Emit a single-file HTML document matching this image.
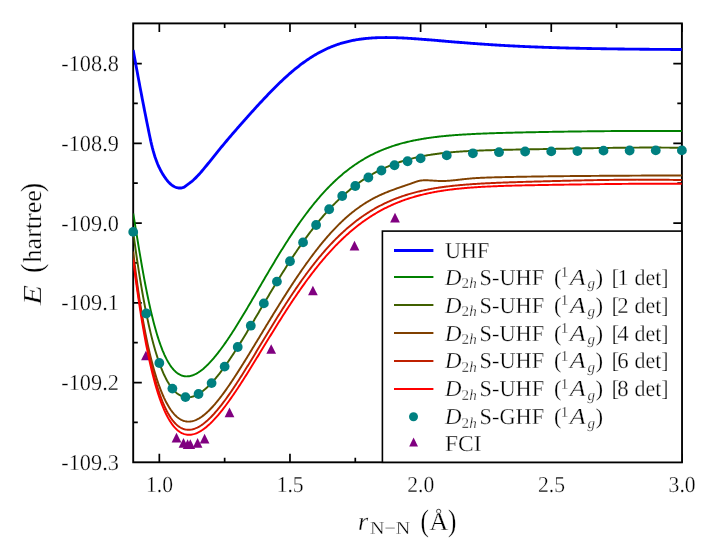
<!DOCTYPE html>
<html><head><meta charset="utf-8"><title>N2 dissociation</title>
<style>html,body{margin:0;padding:0;background:#fff}svg{display:block;will-change:transform}text{font-family:"Liberation Serif",serif;fill:#000;text-rendering:geometricPrecision;stroke:#fff;stroke-width:0.3px}</style></head><body>
<svg width="705" height="552" viewBox="0 0 705 552">
<rect width="705" height="552" fill="#fff"/>
<defs><clipPath id="c"><rect x="133.2" y="23.4" width="548.7" height="438.90000000000003"/></clipPath></defs>
<rect x="133.2" y="23.4" width="548.7" height="438.90000000000003" fill="none" stroke="#000" stroke-width="1.9"/>
<g stroke="#000" stroke-width="1.7">
<path d="M159.33,462.3 v-8.6 M159.33,23.4 v8.6"/>
<path d="M224.65,462.3 v-4.6 M224.65,23.4 v4.6"/>
<path d="M289.97,462.3 v-8.6 M289.97,23.4 v8.6"/>
<path d="M355.29,462.3 v-4.6 M355.29,23.4 v4.6"/>
<path d="M420.61,462.3 v-8.6 M420.61,23.4 v8.6"/>
<path d="M485.94,462.3 v-4.6 M485.94,23.4 v4.6"/>
<path d="M551.26,462.3 v-8.6 M551.26,23.4 v8.6"/>
<path d="M616.58,462.3 v-4.6 M616.58,23.4 v4.6"/>
<path d="M681.90,462.3 v-8.6 M681.90,23.4 v8.6"/>
<path d="M133.2,422.43 h4.6 M681.9,422.43 h-4.6"/>
<path d="M133.2,382.55 h8.6 M681.9,382.55 h-8.6"/>
<path d="M133.2,342.67 h4.6 M681.9,342.67 h-4.6"/>
<path d="M133.2,302.80 h8.6 M681.9,302.80 h-8.6"/>
<path d="M133.2,262.93 h4.6 M681.9,262.93 h-4.6"/>
<path d="M133.2,223.05 h8.6 M681.9,223.05 h-8.6"/>
<path d="M133.2,183.18 h4.6 M681.9,183.18 h-4.6"/>
<path d="M133.2,143.30 h8.6 M681.9,143.30 h-8.6"/>
<path d="M133.2,103.42 h4.6 M681.9,103.42 h-4.6"/>
<path d="M133.2,63.55 h8.6 M681.9,63.55 h-8.6"/>
</g>
<g fill="#800080">
<path d="M145.90,350.65 L150.75,360.35 L141.05,360.35 Z"/>
<path d="M176.50,432.85 L181.35,442.55 L171.65,442.55 Z"/>
<path d="M183.50,437.95 L188.35,447.65 L178.65,447.65 Z"/>
<path d="M187.60,439.20 L192.45,448.90 L182.75,448.90 Z"/>
<path d="M190.30,439.20 L195.15,448.90 L185.45,448.90 Z"/>
<path d="M197.60,437.95 L202.45,447.65 L192.75,447.65 Z"/>
<path d="M204.60,433.85 L209.45,443.55 L199.75,443.55 Z"/>
<path d="M229.50,407.45 L234.35,417.15 L224.65,417.15 Z"/>
<path d="M271.20,344.15 L276.05,353.85 L266.35,353.85 Z"/>
<path d="M312.90,285.65 L317.75,295.35 L308.05,295.35 Z"/>
<path d="M354.50,240.80 L359.35,250.50 L349.65,250.50 Z"/>
<path d="M395.00,212.80 L399.85,222.50 L390.15,222.50 Z"/>
</g>
<g clip-path="url(#c)" fill="none" stroke-linejoin="round">
<path d="M133.20,50.03 L133.34,50.80 L133.48,51.57 L133.62,52.34 L133.76,53.11 L133.90,53.88 L134.04,54.65 L134.18,55.42 L134.32,56.19 L134.46,56.96 L134.60,57.73 L134.74,58.50 L134.88,59.27 L135.02,60.03 L135.16,60.80 L135.30,61.57 L135.44,62.34 L135.58,63.11 L135.72,63.88 L135.86,64.65 L136.00,65.42 L136.15,66.18 L136.29,66.95 L136.43,67.72 L136.57,68.49 L136.71,69.26 L136.85,70.03 L137.00,70.79 L137.14,71.56 L137.28,72.33 L137.42,73.10 L137.57,73.87 L137.71,74.63 L137.85,75.40 L137.99,76.17 L138.14,76.94 L138.28,77.71 L138.42,78.47 L138.57,79.24 L138.71,80.01 L138.85,80.78 L139.00,81.54 L139.14,82.31 L139.29,83.08 L139.43,83.85 L139.58,84.61 L139.72,85.38 L139.86,86.15 L140.01,86.92 L140.16,87.68 L140.30,88.45 L140.45,89.22 L140.59,89.99 L140.74,90.75 L140.88,91.52 L141.03,92.29 L141.18,93.05 L141.32,93.82 L141.47,94.59 L141.62,95.36 L141.76,96.12 L141.91,96.89 L142.06,97.66 L142.20,98.42 L142.35,99.19 L142.50,99.96 L142.65,100.72 L142.80,101.49 L142.95,102.26 L143.09,103.03 L143.24,103.79 L143.39,104.56 L143.54,105.33 L143.69,106.09 L143.84,106.86 L143.99,107.63 L144.14,108.39 L144.29,109.16 L144.44,109.93 L144.59,110.69 L144.74,111.46 L144.89,112.23 L145.04,113.00 L145.20,113.76 L145.35,114.53 L145.50,115.30 L145.65,116.06 L145.80,116.83 L145.96,117.60 L146.11,118.36 L146.26,119.13 L146.42,119.90 L146.57,120.66 L146.72,121.43 L146.88,122.20 L147.03,122.96 L147.19,123.73 L147.34,124.50 L147.50,125.27 L147.65,126.03 L147.81,126.80 L147.96,127.57 L148.12,128.33 L148.27,129.10 L148.43,129.87 L148.59,130.64 L148.74,131.40 L148.90,132.17 L149.06,132.94 L149.22,133.70 L149.37,134.47 L149.53,135.24 L149.69,136.00 L149.85,136.77 L150.01,137.54 L150.18,138.30 L150.34,139.07 L150.51,139.83 L150.68,140.60 L150.84,141.36 L151.02,142.13 L151.19,142.89 L151.37,143.65 L151.54,144.41 L151.73,145.17 L151.91,145.93 L152.10,146.69 L152.28,147.45 L152.48,148.20 L152.67,148.96 L152.87,149.71 L153.08,150.46 L153.28,151.21 L153.50,151.96 L153.71,152.71 L153.93,153.46 L154.15,154.20 L154.38,154.95 L154.62,155.69 L154.85,156.43 L155.10,157.17 L155.34,157.90 L155.60,158.64 L155.86,159.37 L156.12,160.10 L156.39,160.83 L156.67,161.56 L156.95,162.28 L157.24,163.00 L157.53,163.72 L157.84,164.44 L158.14,165.16 L158.46,165.87 L158.78,166.58 L159.11,167.29 L159.45,167.99 L159.79,168.69 L160.14,169.39 L160.50,170.09 L160.87,170.78 L161.24,171.47 L161.62,172.16 L162.01,172.85 L162.41,173.53 L162.82,174.21 L163.24,174.88 L163.67,175.55 L164.10,176.22 L164.55,176.89 L165.00,177.55 L165.46,178.21 L165.94,178.86 L166.42,179.50 L166.91,180.14 L167.42,180.76 L167.93,181.37 L168.46,181.97 L169.00,182.54 L169.55,183.10 L170.12,183.64 L170.69,184.16 L171.28,184.65 L171.89,185.12 L172.51,185.56 L173.14,185.97 L173.79,186.35 L174.45,186.69 L175.12,187.01 L175.82,187.28 L176.52,187.52 L177.25,187.71 L177.99,187.87 L178.74,187.97 L179.51,188.03 L180.29,188.04 L181.07,187.99 L181.85,187.88 L182.64,187.71 L183.42,187.46 L184.20,187.15 L185.20,186.34 L186.19,185.59 L187.19,184.87 L188.19,184.15 L189.19,183.43 L190.18,182.68 L191.18,181.90 L192.18,181.08 L193.18,180.22 L194.17,179.32 L195.17,178.37 L196.17,177.39 L197.17,176.37 L198.16,175.31 L199.16,174.22 L200.16,173.11 L201.16,171.96 L202.15,170.80 L203.15,169.62 L204.15,168.42 L205.15,167.20 L206.14,165.98 L207.14,164.75 L208.14,163.51 L209.13,162.27 L210.13,161.02 L211.13,159.78 L212.13,158.53 L213.12,157.29 L214.12,156.05 L215.12,154.81 L216.12,153.57 L217.11,152.34 L218.11,151.11 L219.11,149.89 L220.11,148.67 L221.10,147.46 L222.10,146.25 L223.10,145.05 L224.10,143.85 L225.09,142.66 L226.09,141.47 L227.09,140.29 L228.09,139.11 L229.08,137.93 L230.08,136.76 L231.08,135.60 L232.07,134.43 L233.07,133.27 L234.07,132.12 L235.07,130.97 L236.06,129.82 L237.06,128.67 L238.06,127.53 L239.06,126.39 L240.05,125.25 L241.05,124.12 L242.05,122.99 L243.05,121.86 L244.04,120.73 L245.04,119.61 L246.04,118.49 L247.04,117.37 L248.03,116.25 L249.03,115.14 L250.03,114.03 L251.03,112.92 L252.02,111.81 L253.02,110.71 L254.02,109.61 L255.02,108.52 L256.01,107.42 L257.01,106.33 L258.01,105.25 L259.00,104.16 L260.00,103.08 L261.00,102.01 L262.00,100.94 L262.99,99.87 L263.99,98.81 L264.99,97.75 L265.99,96.70 L266.98,95.65 L267.98,94.61 L268.98,93.57 L269.98,92.54 L270.97,91.52 L271.97,90.50 L272.97,89.48 L273.97,88.48 L274.96,87.48 L275.96,86.49 L276.96,85.50 L277.96,84.52 L278.95,83.55 L279.95,82.59 L280.95,81.63 L281.94,80.69 L282.94,79.75 L283.94,78.82 L284.94,77.90 L285.93,76.98 L286.93,76.08 L287.93,75.19 L288.93,74.30 L289.92,73.43 L290.92,72.56 L291.92,71.71 L292.92,70.86 L293.91,70.03 L294.91,69.20 L295.91,68.39 L296.91,67.58 L297.90,66.79 L298.90,66.01 L299.90,65.24 L300.90,64.48 L301.89,63.73 L302.89,62.99 L303.89,62.27 L304.88,61.55 L305.88,60.85 L306.88,60.16 L307.88,59.48 L308.87,58.81 L309.87,58.15 L310.87,57.50 L311.87,56.87 L312.86,56.25 L313.86,55.64 L314.86,55.04 L315.86,54.45 L316.85,53.87 L317.85,53.31 L318.85,52.76 L319.85,52.22 L320.84,51.69 L321.84,51.17 L322.84,50.67 L323.84,50.17 L324.83,49.69 L325.83,49.22 L326.83,48.76 L327.82,48.31 L328.82,47.87 L329.82,47.44 L330.82,47.03 L331.81,46.62 L332.81,46.23 L333.81,45.84 L334.81,45.47 L335.80,45.11 L336.80,44.75 L337.80,44.41 L338.80,44.08 L339.79,43.76 L340.79,43.45 L341.79,43.14 L342.79,42.85 L343.78,42.57 L344.78,42.30 L345.78,42.03 L346.78,41.78 L347.77,41.53 L348.77,41.30 L349.77,41.07 L350.76,40.85 L351.76,40.64 L352.76,40.43 L353.76,40.24 L354.75,40.05 L355.75,39.88 L356.75,39.71 L357.75,39.54 L358.74,39.39 L359.74,39.24 L360.74,39.10 L361.74,38.97 L362.73,38.84 L363.73,38.72 L364.73,38.61 L365.73,38.50 L366.72,38.40 L367.72,38.31 L368.72,38.22 L369.72,38.14 L370.71,38.06 L371.71,37.99 L372.71,37.93 L373.71,37.87 L374.70,37.82 L375.70,37.77 L376.70,37.72 L377.69,37.69 L378.69,37.65 L379.69,37.62 L380.69,37.60 L381.68,37.58 L382.68,37.56 L383.68,37.55 L384.68,37.55 L385.67,37.54 L386.67,37.54 L387.67,37.55 L388.67,37.56 L389.66,37.57 L390.66,37.58 L391.66,37.60 L392.66,37.62 L393.65,37.65 L394.65,37.67 L395.65,37.70 L396.65,37.74 L397.64,37.77 L398.64,37.81 L399.64,37.85 L400.63,37.90 L401.63,37.94 L402.63,37.99 L403.63,38.04 L404.62,38.09 L405.62,38.15 L406.62,38.20 L407.62,38.26 L408.61,38.32 L409.61,38.38 L410.61,38.45 L411.61,38.51 L412.60,38.58 L413.60,38.65 L414.60,38.72 L415.60,38.79 L416.59,38.86 L417.59,38.93 L418.59,39.00 L419.59,39.08 L420.58,39.15 L421.58,39.23 L422.58,39.31 L423.57,39.39 L424.57,39.46 L425.57,39.54 L426.57,39.62 L427.56,39.71 L428.56,39.79 L429.56,39.87 L430.56,39.95 L431.55,40.03 L432.55,40.12 L433.55,40.20 L434.55,40.28 L435.54,40.37 L436.54,40.45 L437.54,40.54 L438.54,40.62 L439.53,40.71 L440.53,40.79 L441.53,40.87 L442.53,40.96 L443.52,41.04 L444.52,41.13 L445.52,41.21 L446.51,41.30 L447.51,41.38 L448.51,41.47 L449.51,41.55 L450.50,41.63 L451.50,41.72 L452.50,41.80 L453.50,41.88 L454.49,41.97 L455.49,42.05 L456.49,42.13 L457.49,42.21 L458.48,42.29 L459.48,42.38 L460.48,42.46 L461.48,42.54 L462.47,42.62 L463.47,42.70 L464.47,42.78 L465.47,42.85 L466.46,42.93 L467.46,43.01 L468.46,43.09 L469.45,43.16 L470.45,43.24 L471.45,43.32 L472.45,43.39 L473.44,43.47 L474.44,43.54 L475.44,43.61 L476.44,43.69 L477.43,43.76 L478.43,43.83 L479.43,43.90 L480.43,43.97 L481.42,44.04 L482.42,44.11 L483.42,44.18 L484.42,44.25 L485.41,44.32 L486.41,44.38 L487.41,44.45 L488.41,44.52 L489.40,44.58 L490.40,44.65 L491.40,44.71 L492.39,44.78 L493.39,44.84 L494.39,44.90 L495.39,44.96 L496.38,45.02 L497.38,45.09 L498.38,45.15 L499.38,45.21 L500.37,45.26 L501.37,45.32 L502.37,45.38 L503.37,45.44 L504.36,45.49 L505.36,45.55 L506.36,45.60 L507.36,45.66 L508.35,45.71 L509.35,45.77 L510.35,45.82 L511.35,45.87 L512.34,45.92 L513.34,45.98 L514.34,46.03 L515.34,46.08 L516.33,46.13 L517.33,46.18 L518.33,46.22 L519.32,46.27 L520.32,46.32 L521.32,46.37 L522.32,46.41 L523.31,46.46 L524.31,46.50 L525.31,46.55 L526.31,46.59 L527.30,46.64 L528.30,46.68 L529.30,46.72 L530.30,46.76 L531.29,46.81 L532.29,46.85 L533.29,46.89 L534.29,46.93 L535.28,46.97 L536.28,47.01 L537.28,47.04 L538.28,47.08 L539.27,47.12 L540.27,47.16 L541.27,47.19 L542.26,47.23 L543.26,47.27 L544.26,47.30 L545.26,47.34 L546.25,47.37 L547.25,47.41 L548.25,47.44 L549.25,47.47 L550.24,47.51 L551.24,47.54 L552.24,47.57 L553.24,47.60 L554.23,47.63 L555.23,47.66 L556.23,47.69 L557.23,47.72 L558.22,47.75 L559.22,47.78 L560.22,47.81 L561.22,47.84 L562.21,47.87 L563.21,47.90 L564.21,47.92 L565.20,47.95 L566.20,47.98 L567.20,48.00 L568.20,48.03 L569.19,48.05 L570.19,48.08 L571.19,48.10 L572.19,48.13 L573.18,48.15 L574.18,48.18 L575.18,48.20 L576.18,48.22 L577.17,48.25 L578.17,48.27 L579.17,48.29 L580.17,48.31 L581.16,48.34 L582.16,48.36 L583.16,48.38 L584.16,48.40 L585.15,48.42 L586.15,48.44 L587.15,48.46 L588.14,48.48 L589.14,48.50 L590.14,48.52 L591.14,48.54 L592.13,48.56 L593.13,48.58 L594.13,48.59 L595.13,48.61 L596.12,48.63 L597.12,48.65 L598.12,48.66 L599.12,48.68 L600.11,48.70 L601.11,48.71 L602.11,48.73 L603.11,48.75 L604.10,48.76 L605.10,48.78 L606.10,48.79 L607.10,48.81 L608.09,48.82 L609.09,48.84 L610.09,48.85 L611.08,48.87 L612.08,48.88 L613.08,48.90 L614.08,48.91 L615.07,48.92 L616.07,48.94 L617.07,48.95 L618.07,48.96 L619.06,48.98 L620.06,48.99 L621.06,49.00 L622.06,49.01 L623.05,49.03 L624.05,49.04 L625.05,49.05 L626.05,49.06 L627.04,49.07 L628.04,49.09 L629.04,49.10 L630.04,49.11 L631.03,49.12 L632.03,49.13 L633.03,49.14 L634.03,49.15 L635.02,49.16 L636.02,49.17 L637.02,49.18 L638.01,49.19 L639.01,49.20 L640.01,49.21 L641.01,49.22 L642.00,49.23 L643.00,49.24 L644.00,49.25 L645.00,49.26 L645.99,49.27 L646.99,49.28 L647.99,49.28 L648.99,49.29 L649.98,49.30 L650.98,49.31 L651.98,49.32 L652.98,49.33 L653.97,49.33 L654.97,49.34 L655.97,49.35 L656.97,49.36 L657.96,49.36 L658.96,49.37 L659.96,49.38 L660.95,49.39 L661.95,49.39 L662.95,49.40 L663.95,49.41 L664.94,49.41 L665.94,49.42 L666.94,49.43 L667.94,49.43 L668.93,49.44 L669.93,49.45 L670.93,49.45 L671.93,49.46 L672.92,49.47 L673.92,49.47 L674.92,49.48 L675.92,49.48 L676.91,49.49 L677.91,49.50 L678.91,49.50 L679.91,49.51 L680.90,49.51 L681.90,49.52" stroke="#0000ff" stroke-width="2.85"/>
<path d="M133.20,213.35 L134.12,218.98 L135.03,224.63 L135.95,230.29 L136.86,235.93 L137.78,241.53 L138.70,247.08 L139.61,252.56 L140.53,257.96 L141.44,263.27 L142.36,268.49 L143.28,273.59 L144.19,278.58 L145.11,283.45 L146.02,288.19 L146.94,292.80 L147.86,297.28 L148.77,301.62 L149.69,305.83 L150.60,309.89 L151.52,313.82 L152.44,317.60 L153.35,321.25 L154.27,324.76 L155.18,328.12 L156.10,331.35 L157.02,334.45 L157.93,337.41 L158.85,340.23 L159.76,342.93 L160.68,345.50 L161.60,347.95 L162.51,350.27 L163.43,352.47 L164.34,354.56 L165.26,356.53 L166.18,358.39 L167.09,360.13 L168.01,361.78 L168.93,363.32 L169.84,364.75 L170.76,366.09 L171.67,367.34 L172.59,368.49 L173.51,369.55 L174.42,370.53 L175.34,371.42 L176.25,372.22 L177.17,372.95 L178.09,373.60 L179.00,374.18 L179.92,374.68 L180.83,375.11 L181.75,375.48 L182.67,375.77 L183.58,376.01 L184.50,376.18 L185.41,376.29 L186.33,376.35 L187.25,376.34 L188.16,376.29 L189.08,376.17 L189.99,376.01 L190.91,375.80 L191.83,375.54 L192.74,375.24 L193.66,374.88 L194.57,374.49 L195.49,374.05 L196.41,373.57 L197.32,373.05 L198.24,372.49 L199.15,371.90 L200.07,371.27 L200.99,370.60 L201.90,369.90 L202.82,369.16 L203.73,368.39 L204.65,367.59 L205.57,366.77 L206.48,365.91 L207.40,365.02 L208.31,364.10 L209.23,363.16 L210.15,362.19 L211.06,361.20 L211.98,360.18 L212.89,359.13 L213.81,358.07 L214.73,356.98 L215.64,355.86 L216.56,354.73 L217.47,353.58 L218.39,352.40 L219.31,351.21 L220.22,350.00 L221.14,348.77 L222.05,347.52 L222.97,346.25 L223.89,344.97 L224.80,343.67 L225.72,342.35 L226.63,341.03 L227.55,339.68 L228.47,338.32 L229.38,336.95 L230.30,335.57 L231.21,334.17 L232.13,332.76 L233.05,331.34 L233.96,329.91 L234.88,328.46 L235.79,327.01 L236.71,325.55 L237.63,324.07 L238.54,322.59 L239.46,321.10 L240.38,319.61 L241.29,318.10 L242.21,316.59 L243.12,315.07 L244.04,313.54 L244.96,312.01 L245.87,310.47 L246.79,308.93 L247.70,307.38 L248.62,305.83 L249.54,304.28 L250.45,302.72 L251.37,301.16 L252.28,299.59 L253.20,298.03 L254.12,296.46 L255.03,294.89 L255.95,293.31 L256.86,291.74 L257.78,290.17 L258.70,288.59 L259.61,287.02 L260.53,285.45 L261.44,283.88 L262.36,282.30 L263.28,280.73 L264.19,279.17 L265.11,277.60 L266.02,276.04 L266.94,274.48 L267.86,272.92 L268.77,271.37 L269.69,269.82 L270.60,268.27 L271.52,266.73 L272.44,265.19 L273.35,263.66 L274.27,262.13 L275.18,260.60 L276.10,259.09 L277.02,257.58 L277.93,256.07 L278.85,254.57 L279.76,253.08 L280.68,251.59 L281.60,250.11 L282.51,248.64 L283.43,247.18 L284.34,245.72 L285.26,244.27 L286.18,242.83 L287.09,241.40 L288.01,239.98 L288.92,238.56 L289.84,237.16 L290.76,235.76 L291.67,234.37 L292.59,232.99 L293.50,231.62 L294.42,230.26 L295.34,228.91 L296.25,227.57 L297.17,226.24 L298.08,224.92 L299.00,223.61 L299.92,222.31 L300.83,221.02 L301.75,219.74 L302.66,218.47 L303.58,217.21 L304.50,215.96 L305.41,214.73 L306.33,213.50 L307.25,212.29 L308.16,211.08 L309.08,209.89 L309.99,208.71 L310.91,207.54 L311.83,206.38 L312.74,205.24 L313.66,204.10 L314.57,202.98 L315.49,201.87 L316.41,200.77 L317.32,199.68 L318.24,198.60 L319.15,197.53 L320.07,196.48 L320.99,195.44 L321.90,194.41 L322.82,193.39 L323.73,192.38 L324.65,191.38 L325.57,190.40 L326.48,189.43 L327.40,188.47 L328.31,187.52 L329.23,186.58 L330.15,185.65 L331.06,184.74 L331.98,183.83 L332.89,182.94 L333.81,182.06 L334.73,181.19 L335.64,180.33 L336.56,179.49 L337.47,178.65 L338.39,177.83 L339.31,177.01 L340.22,176.21 L341.14,175.42 L342.05,174.64 L342.97,173.87 L343.89,173.11 L344.80,172.36 L345.72,171.62 L346.63,170.90 L347.55,170.18 L348.47,169.47 L349.38,168.78 L350.30,168.09 L351.21,167.42 L352.13,166.75 L353.05,166.10 L353.96,165.45 L354.88,164.82 L355.79,164.19 L356.71,163.58 L357.63,162.97 L358.54,162.38 L359.46,161.79 L360.37,161.21 L361.29,160.64 L362.21,160.08 L363.12,159.54 L364.04,158.99 L364.95,158.46 L365.87,157.94 L366.79,157.43 L367.70,156.92 L368.62,156.42 L369.53,155.93 L370.45,155.45 L371.37,154.98 L372.28,154.52 L373.20,154.06 L374.12,153.61 L375.03,153.17 L375.95,152.74 L376.86,152.32 L377.78,151.90 L378.70,151.49 L379.61,151.09 L380.53,150.69 L381.44,150.31 L382.36,149.93 L383.28,149.55 L384.19,149.19 L385.11,148.83 L386.02,148.48 L386.94,148.13 L387.86,147.79 L388.77,147.46 L389.69,147.13 L390.60,146.81 L391.52,146.49 L392.44,146.19 L393.35,145.88 L394.27,145.59 L395.18,145.30 L396.10,145.01 L397.02,144.73 L397.93,144.46 L398.85,144.19 L399.76,143.93 L400.68,143.67 L401.60,143.42 L402.51,143.17 L403.43,142.93 L404.34,142.69 L405.26,142.46 L406.18,142.23 L407.09,142.01 L408.01,141.79 L408.92,141.58 L409.84,141.37 L410.76,141.16 L411.67,140.96 L412.59,140.76 L413.50,140.57 L414.42,140.38 L415.34,140.20 L416.25,140.02 L417.17,139.84 L418.08,139.67 L419.00,139.50 L419.92,139.34 L420.83,139.17 L421.75,139.02 L422.66,138.86 L423.58,138.71 L424.50,138.56 L425.41,138.42 L426.33,138.27 L427.24,138.14 L428.16,138.00 L429.08,137.87 L429.99,137.74 L430.91,137.61 L431.82,137.49 L432.74,137.37 L433.66,137.25 L434.57,137.13 L435.49,137.02 L436.40,136.91 L437.32,136.80 L438.24,136.69 L439.15,136.59 L440.07,136.49 L440.98,136.39 L441.90,136.29 L442.82,136.20 L443.73,136.11 L444.65,136.02 L445.57,135.93 L446.48,135.84 L447.40,135.76 L448.31,135.68 L449.23,135.59 L450.15,135.52 L451.06,135.44 L451.98,135.36 L452.89,135.29 L453.81,135.22 L454.73,135.15 L455.64,135.08 L456.56,135.01 L457.47,134.94 L458.39,134.88 L459.31,134.82 L460.22,134.75 L461.14,134.69 L462.05,134.63 L462.97,134.58 L463.89,134.52 L464.80,134.47 L465.72,134.41 L466.63,134.36 L467.55,134.31 L468.47,134.25 L469.38,134.21 L470.30,134.16 L471.21,134.11 L472.13,134.06 L473.05,134.02 L473.96,133.97 L474.88,133.93 L475.79,133.88 L476.71,133.84 L477.63,133.80 L478.54,133.76 L479.46,133.72 L480.37,133.68 L481.29,133.64 L482.21,133.60 L483.12,133.57 L484.04,133.53 L484.95,133.50 L485.87,133.46 L486.79,133.43 L487.70,133.39 L488.62,133.36 L489.53,133.33 L490.45,133.29 L491.37,133.26 L492.28,133.23 L493.20,133.20 L494.11,133.17 L495.03,133.14 L495.95,133.11 L496.86,133.08 L497.78,133.06 L498.69,133.03 L499.61,133.00 L500.53,132.97 L501.44,132.95 L502.36,132.92 L503.27,132.90 L504.19,132.87 L505.11,132.85 L506.02,132.82 L506.94,132.80 L507.85,132.77 L508.77,132.75 L509.69,132.72 L510.60,132.70 L511.52,132.68 L512.44,132.66 L513.35,132.63 L514.27,132.61 L515.18,132.59 L516.10,132.57 L517.02,132.55 L517.93,132.52 L518.85,132.50 L519.76,132.48 L520.68,132.46 L521.60,132.44 L522.51,132.42 L523.43,132.40 L524.34,132.38 L525.26,132.36 L526.18,132.34 L527.09,132.32 L528.01,132.30 L528.92,132.29 L529.84,132.27 L530.76,132.25 L531.67,132.23 L532.59,132.21 L533.50,132.19 L534.42,132.17 L535.34,132.16 L536.25,132.14 L537.17,132.12 L538.08,132.10 L539.00,132.09 L539.92,132.07 L540.83,132.05 L541.75,132.04 L542.66,132.02 L543.58,132.00 L544.50,131.99 L545.41,131.97 L546.33,131.95 L547.24,131.94 L548.16,131.92 L549.08,131.90 L549.99,131.89 L550.91,131.87 L551.82,131.86 L552.74,131.84 L553.66,131.83 L554.57,131.81 L555.49,131.80 L556.40,131.78 L557.32,131.77 L558.24,131.75 L559.15,131.74 L560.07,131.72 L560.98,131.71 L561.90,131.69 L562.82,131.68 L563.73,131.66 L564.65,131.65 L565.56,131.64 L566.48,131.62 L567.40,131.61 L568.31,131.59 L569.23,131.58 L570.14,131.57 L571.06,131.55 L571.98,131.54 L572.89,131.53 L573.81,131.52 L574.72,131.50 L575.64,131.49 L576.56,131.48 L577.47,131.46 L578.39,131.45 L579.31,131.44 L580.22,131.43 L581.14,131.42 L582.05,131.40 L582.97,131.39 L583.89,131.38 L584.80,131.37 L585.72,131.36 L586.63,131.35 L587.55,131.34 L588.47,131.32 L589.38,131.31 L590.30,131.30 L591.21,131.29 L592.13,131.28 L593.05,131.27 L593.96,131.26 L594.88,131.25 L595.79,131.24 L596.71,131.23 L597.63,131.22 L598.54,131.21 L599.46,131.20 L600.37,131.19 L601.29,131.18 L602.21,131.18 L603.12,131.17 L604.04,131.16 L604.95,131.15 L605.87,131.14 L606.79,131.13 L607.70,131.13 L608.62,131.12 L609.53,131.11 L610.45,131.10 L611.37,131.09 L612.28,131.09 L613.20,131.08 L614.11,131.07 L615.03,131.07 L615.95,131.06 L616.86,131.05 L617.78,131.05 L618.69,131.04 L619.61,131.03 L620.53,131.03 L621.44,131.02 L622.36,131.02 L623.27,131.01 L624.19,131.01 L625.11,131.00 L626.02,131.00 L626.94,130.99 L627.85,130.99 L628.77,130.98 L629.69,130.98 L630.60,130.97 L631.52,130.97 L632.43,130.97 L633.35,130.96 L634.27,130.96 L635.18,130.96 L636.10,130.95 L637.01,130.95 L637.93,130.95 L638.85,130.94 L639.76,130.94 L640.68,130.94 L641.59,130.94 L642.51,130.94 L643.43,130.93 L644.34,130.93 L645.26,130.93 L646.17,130.93 L647.09,130.93 L648.01,130.93 L648.92,130.93 L649.84,130.93 L650.76,130.93 L651.67,130.93 L652.59,130.93 L653.50,130.93 L654.42,130.93 L655.34,130.93 L656.25,130.93 L657.17,130.93 L658.08,130.93 L659.00,130.93 L659.92,130.93 L660.83,130.93 L661.75,130.94 L662.66,130.94 L663.58,130.94 L664.50,130.94 L665.41,130.94 L666.33,130.95 L667.24,130.95 L668.16,130.95 L669.08,130.96 L669.99,130.96 L670.91,130.96 L671.82,130.97 L672.74,130.97 L673.66,130.97 L674.57,130.98 L675.49,130.98 L676.40,130.99 L677.32,130.99 L678.24,130.99 L679.15,131.00 L680.07,131.00 L680.98,131.01 L681.90,131.02" stroke="#008000" stroke-width="1.95"/>
<path d="M133.20,232.05 L134.12,238.86 L135.03,245.49 L135.95,251.96 L136.86,258.25 L137.78,264.38 L138.70,270.33 L139.61,276.12 L140.53,281.74 L141.44,287.19 L142.36,292.47 L143.28,297.59 L144.19,302.55 L145.11,307.35 L146.02,311.99 L146.94,316.47 L147.86,320.80 L148.77,324.98 L149.69,329.01 L150.60,332.89 L151.52,336.63 L152.44,340.22 L153.35,343.68 L154.27,347.00 L155.18,350.18 L156.10,353.24 L157.02,356.16 L157.93,358.97 L158.85,361.64 L159.76,364.20 L160.68,366.64 L161.60,368.97 L162.51,371.18 L163.43,373.29 L164.34,375.29 L165.26,377.18 L166.18,378.97 L167.09,380.67 L168.01,382.26 L168.93,383.76 L169.84,385.17 L170.76,386.49 L171.67,387.73 L172.59,388.87 L173.51,389.94 L174.42,390.92 L175.34,391.82 L176.25,392.65 L177.17,393.41 L178.09,394.09 L179.00,394.70 L179.92,395.24 L180.83,395.71 L181.75,396.12 L182.67,396.47 L183.58,396.75 L184.50,396.97 L185.41,397.14 L186.33,397.25 L187.25,397.30 L188.16,397.30 L189.08,397.25 L189.99,397.14 L190.91,396.99 L191.83,396.79 L192.74,396.54 L193.66,396.24 L194.57,395.90 L195.49,395.52 L196.41,395.10 L197.32,394.63 L198.24,394.13 L199.15,393.58 L200.07,393.00 L200.99,392.39 L201.90,391.74 L202.82,391.05 L203.73,390.33 L204.65,389.58 L205.57,388.79 L206.48,387.98 L207.40,387.13 L208.31,386.26 L209.23,385.36 L210.15,384.43 L211.06,383.47 L211.98,382.49 L212.89,381.48 L213.81,380.45 L214.73,379.40 L215.64,378.32 L216.56,377.22 L217.47,376.10 L218.39,374.96 L219.31,373.80 L220.22,372.62 L221.14,371.42 L222.05,370.20 L222.97,368.96 L223.89,367.71 L224.80,366.44 L225.72,365.16 L226.63,363.86 L227.55,362.54 L228.47,361.21 L229.38,359.87 L230.30,358.51 L231.21,357.14 L232.13,355.76 L233.05,354.37 L233.96,352.97 L234.88,351.55 L235.79,350.13 L236.71,348.69 L237.63,347.25 L238.54,345.79 L239.46,344.33 L240.38,342.86 L241.29,341.38 L242.21,339.90 L243.12,338.41 L244.04,336.91 L244.96,335.41 L245.87,333.90 L246.79,332.38 L247.70,330.86 L248.62,329.34 L249.54,327.81 L250.45,326.28 L251.37,324.75 L252.28,323.21 L253.20,321.67 L254.12,320.13 L255.03,318.58 L255.95,317.03 L256.86,315.49 L257.78,313.94 L258.70,312.39 L259.61,310.84 L260.53,309.29 L261.44,307.74 L262.36,306.20 L263.28,304.65 L264.19,303.10 L265.11,301.56 L266.02,300.01 L266.94,298.47 L267.86,296.94 L268.77,295.40 L269.69,293.87 L270.60,292.34 L271.52,290.81 L272.44,289.29 L273.35,287.77 L274.27,286.25 L275.18,284.74 L276.10,283.24 L277.02,281.74 L277.93,280.24 L278.85,278.75 L279.76,277.26 L280.68,275.78 L281.60,274.31 L282.51,272.84 L283.43,271.38 L284.34,269.93 L285.26,268.48 L286.18,267.04 L287.09,265.60 L288.01,264.17 L288.92,262.75 L289.84,261.34 L290.76,259.93 L291.67,258.54 L292.59,257.15 L293.50,255.77 L294.42,254.39 L295.34,253.03 L296.25,251.67 L297.17,250.32 L298.08,248.99 L299.00,247.66 L299.92,246.34 L300.83,245.02 L301.75,243.72 L302.66,242.43 L303.58,241.14 L304.50,239.87 L305.41,238.60 L306.33,237.35 L307.25,236.10 L308.16,234.87 L309.08,233.64 L309.99,232.43 L310.91,231.22 L311.83,230.03 L312.74,228.84 L313.66,227.67 L314.57,226.50 L315.49,225.35 L316.41,224.21 L317.32,223.07 L318.24,221.95 L319.15,220.84 L320.07,219.74 L320.99,218.65 L321.90,217.57 L322.82,216.50 L323.73,215.44 L324.65,214.39 L325.57,213.35 L326.48,212.32 L327.40,211.31 L328.31,210.30 L329.23,209.31 L330.15,208.33 L331.06,207.35 L331.98,206.39 L332.89,205.44 L333.81,204.50 L334.73,203.57 L335.64,202.65 L336.56,201.74 L337.47,200.84 L338.39,199.96 L339.31,199.08 L340.22,198.21 L341.14,197.36 L342.05,196.51 L342.97,195.68 L343.89,194.85 L344.80,194.04 L345.72,193.24 L346.63,192.45 L347.55,191.66 L348.47,190.89 L349.38,190.13 L350.30,189.38 L351.21,188.64 L352.13,187.90 L353.05,187.18 L353.96,186.47 L354.88,185.77 L355.79,185.08 L356.71,184.39 L357.63,183.72 L358.54,183.06 L359.46,182.41 L360.37,181.76 L361.29,181.13 L362.21,180.50 L363.12,179.89 L364.04,179.28 L364.95,178.69 L365.87,178.10 L366.79,177.52 L367.70,176.95 L368.62,176.39 L369.53,175.84 L370.45,175.29 L371.37,174.76 L372.28,174.23 L373.20,173.71 L374.12,173.21 L375.03,172.70 L375.95,172.21 L376.86,171.73 L377.78,171.25 L378.70,170.78 L379.61,170.32 L380.53,169.87 L381.44,169.43 L382.36,168.99 L383.28,168.56 L384.19,168.14 L385.11,167.73 L386.02,167.32 L386.94,166.92 L387.86,166.53 L388.77,166.14 L389.69,165.76 L390.60,165.39 L391.52,165.03 L392.44,164.67 L393.35,164.32 L394.27,163.98 L395.18,163.64 L396.10,163.31 L397.02,162.98 L397.93,162.67 L398.85,162.35 L399.76,162.05 L400.68,161.75 L401.60,161.45 L402.51,161.16 L403.43,160.88 L404.34,160.61 L405.26,160.33 L406.18,160.07 L407.09,159.81 L408.01,159.55 L408.92,159.31 L409.84,159.06 L410.76,158.82 L411.67,158.59 L412.59,158.36 L413.50,158.14 L414.42,157.92 L415.34,157.70 L416.25,157.49 L417.17,157.29 L418.08,157.09 L419.00,156.89 L419.92,156.70 L420.83,156.51 L421.75,156.33 L422.66,156.15 L423.58,155.97 L424.50,155.80 L425.41,155.64 L426.33,155.47 L427.24,155.31 L428.16,155.16 L429.08,155.01 L429.99,154.86 L430.91,154.71 L431.82,154.57 L432.74,154.43 L433.66,154.30 L434.57,154.17 L435.49,154.04 L436.40,153.91 L437.32,153.79 L438.24,153.67 L439.15,153.56 L440.07,153.44 L440.98,153.33 L441.90,153.22 L442.82,153.12 L443.73,153.02 L444.65,152.92 L445.57,152.82 L446.48,152.73 L447.40,152.63 L448.31,152.54 L449.23,152.46 L450.15,152.37 L451.06,152.29 L451.98,152.21 L452.89,152.13 L453.81,152.05 L454.73,151.98 L455.64,151.90 L456.56,151.83 L457.47,151.77 L458.39,151.70 L459.31,151.63 L460.22,151.57 L461.14,151.51 L462.05,151.45 L462.97,151.39 L463.89,151.33 L464.80,151.28 L465.72,151.22 L466.63,151.17 L467.55,151.12 L468.47,151.07 L469.38,151.02 L470.30,150.97 L471.21,150.93 L472.13,150.88 L473.05,150.84 L473.96,150.79 L474.88,150.75 L475.79,150.71 L476.71,150.67 L477.63,150.64 L478.54,150.60 L479.46,150.56 L480.37,150.53 L481.29,150.49 L482.21,150.46 L483.12,150.42 L484.04,150.39 L484.95,150.36 L485.87,150.33 L486.79,150.30 L487.70,150.27 L488.62,150.24 L489.53,150.21 L490.45,150.19 L491.37,150.16 L492.28,150.13 L493.20,150.11 L494.11,150.08 L495.03,150.06 L495.95,150.04 L496.86,150.01 L497.78,149.99 L498.69,149.97 L499.61,149.94 L500.53,149.92 L501.44,149.90 L502.36,149.88 L503.27,149.86 L504.19,149.84 L505.11,149.82 L506.02,149.80 L506.94,149.78 L507.85,149.76 L508.77,149.74 L509.69,149.72 L510.60,149.70 L511.52,149.68 L512.44,149.66 L513.35,149.64 L514.27,149.63 L515.18,149.61 L516.10,149.59 L517.02,149.57 L517.93,149.55 L518.85,149.54 L519.76,149.52 L520.68,149.50 L521.60,149.49 L522.51,149.47 L523.43,149.45 L524.34,149.43 L525.26,149.42 L526.18,149.40 L527.09,149.38 L528.01,149.37 L528.92,149.35 L529.84,149.33 L530.76,149.32 L531.67,149.30 L532.59,149.28 L533.50,149.27 L534.42,149.25 L535.34,149.23 L536.25,149.22 L537.17,149.20 L538.08,149.18 L539.00,149.17 L539.92,149.15 L540.83,149.13 L541.75,149.12 L542.66,149.10 L543.58,149.08 L544.50,149.07 L545.41,149.05 L546.33,149.03 L547.24,149.01 L548.16,149.00 L549.08,148.98 L549.99,148.96 L550.91,148.95 L551.82,148.93 L552.74,148.91 L553.66,148.90 L554.57,148.88 L555.49,148.86 L556.40,148.84 L557.32,148.83 L558.24,148.81 L559.15,148.79 L560.07,148.77 L560.98,148.76 L561.90,148.74 L562.82,148.72 L563.73,148.70 L564.65,148.69 L565.56,148.67 L566.48,148.65 L567.40,148.63 L568.31,148.62 L569.23,148.60 L570.14,148.58 L571.06,148.57 L571.98,148.55 L572.89,148.53 L573.81,148.51 L574.72,148.50 L575.64,148.48 L576.56,148.46 L577.47,148.44 L578.39,148.43 L579.31,148.41 L580.22,148.39 L581.14,148.38 L582.05,148.36 L582.97,148.34 L583.89,148.32 L584.80,148.31 L585.72,148.29 L586.63,148.27 L587.55,148.26 L588.47,148.24 L589.38,148.22 L590.30,148.21 L591.21,148.19 L592.13,148.18 L593.05,148.16 L593.96,148.14 L594.88,148.13 L595.79,148.11 L596.71,148.10 L597.63,148.08 L598.54,148.07 L599.46,148.05 L600.37,148.04 L601.29,148.02 L602.21,148.01 L603.12,147.99 L604.04,147.98 L604.95,147.96 L605.87,147.95 L606.79,147.94 L607.70,147.92 L608.62,147.91 L609.53,147.89 L610.45,147.88 L611.37,147.87 L612.28,147.86 L613.20,147.84 L614.11,147.83 L615.03,147.82 L615.95,147.81 L616.86,147.80 L617.78,147.78 L618.69,147.77 L619.61,147.76 L620.53,147.75 L621.44,147.74 L622.36,147.73 L623.27,147.72 L624.19,147.71 L625.11,147.70 L626.02,147.69 L626.94,147.68 L627.85,147.68 L628.77,147.67 L629.69,147.66 L630.60,147.65 L631.52,147.64 L632.43,147.64 L633.35,147.63 L634.27,147.62 L635.18,147.62 L636.10,147.61 L637.01,147.61 L637.93,147.60 L638.85,147.60 L639.76,147.59 L640.68,147.59 L641.59,147.59 L642.51,147.58 L643.43,147.58 L644.34,147.58 L645.26,147.57 L646.17,147.57 L647.09,147.57 L648.01,147.57 L648.92,147.57 L649.84,147.57 L650.76,147.57 L651.67,147.57 L652.59,147.57 L653.50,147.57 L654.42,147.57 L655.34,147.57 L656.25,147.58 L657.17,147.58 L658.08,147.58 L659.00,147.58 L659.92,147.59 L660.83,147.59 L661.75,147.60 L662.66,147.60 L663.58,147.61 L664.50,147.61 L665.41,147.62 L666.33,147.63 L667.24,147.63 L668.16,147.64 L669.08,147.65 L669.99,147.66 L670.91,147.67 L671.82,147.68 L672.74,147.69 L673.66,147.70 L674.57,147.71 L675.49,147.72 L676.40,147.73 L677.32,147.74 L678.24,147.75 L679.15,147.77 L680.07,147.78 L680.98,147.80 L681.90,147.81" stroke="#406000" stroke-width="1.95"/>
<path d="M133.20,251.51 L133.92,257.63 L134.64,263.56 L135.35,269.29 L136.07,274.84 L136.79,280.22 L137.51,285.43 L138.22,290.47 L138.94,295.36 L139.66,300.09 L140.38,304.68 L141.09,309.13 L141.81,313.45 L142.53,317.63 L143.25,321.69 L143.96,325.62 L144.68,329.44 L145.40,333.14 L146.12,336.73 L146.83,340.21 L147.55,343.59 L148.27,346.87 L148.99,350.04 L149.70,353.13 L150.42,356.11 L151.14,359.01 L151.86,361.82 L152.57,364.54 L153.29,367.18 L154.01,369.74 L154.73,372.21 L155.44,374.61 L156.16,376.93 L156.88,379.18 L157.60,381.35 L158.31,383.45 L159.03,385.48 L159.75,387.44 L160.47,389.33 L161.18,391.16 L161.90,392.92 L162.62,394.62 L163.34,396.26 L164.05,397.84 L164.77,399.35 L165.49,400.81 L166.21,402.21 L166.92,403.55 L167.64,404.84 L168.36,406.07 L169.08,407.24 L169.79,408.37 L170.51,409.44 L171.23,410.46 L171.95,411.43 L172.66,412.35 L173.38,413.22 L174.10,414.05 L174.82,414.82 L175.54,415.55 L176.25,416.24 L176.97,416.88 L177.69,417.47 L178.41,418.03 L179.12,418.54 L179.84,419.00 L180.56,419.43 L181.28,419.82 L181.99,420.17 L182.71,420.47 L183.43,420.74 L184.15,420.98 L184.86,421.17 L185.58,421.33 L186.30,421.46 L187.02,421.55 L187.73,421.60 L188.45,421.62 L189.17,421.61 L189.89,421.57 L190.60,421.49 L191.32,421.38 L192.04,421.24 L192.76,421.08 L193.47,420.88 L194.19,420.65 L194.91,420.40 L195.63,420.12 L196.34,419.81 L197.06,419.48 L197.78,419.11 L198.50,418.73 L199.21,418.32 L199.93,417.88 L200.65,417.42 L201.37,416.94 L202.08,416.44 L202.80,415.91 L203.52,415.36 L204.24,414.79 L204.95,414.20 L205.67,413.59 L206.39,412.96 L207.11,412.31 L207.82,411.64 L208.54,410.96 L209.26,410.25 L209.98,409.53 L210.69,408.79 L211.41,408.04 L212.13,407.27 L212.85,406.48 L213.56,405.68 L214.28,404.86 L215.00,404.03 L215.72,403.19 L216.44,402.33 L217.15,401.46 L217.87,400.57 L218.59,399.67 L219.31,398.76 L220.02,397.84 L220.74,396.91 L221.46,395.97 L222.18,395.01 L222.89,394.05 L223.61,393.07 L224.33,392.09 L225.05,391.09 L225.76,390.09 L226.48,389.08 L227.20,388.05 L227.92,387.03 L228.63,385.99 L229.35,384.94 L230.07,383.89 L230.79,382.83 L231.50,381.76 L232.22,380.69 L232.94,379.61 L233.66,378.52 L234.37,377.43 L235.09,376.33 L235.81,375.23 L236.53,374.12 L237.24,373.01 L237.96,371.89 L238.68,370.76 L239.40,369.64 L240.11,368.50 L240.83,367.37 L241.55,366.23 L242.27,365.08 L242.98,363.94 L243.70,362.79 L244.42,361.63 L245.14,360.48 L245.85,359.32 L246.57,358.15 L247.29,356.99 L248.01,355.82 L248.72,354.65 L249.44,353.48 L250.16,352.31 L250.88,351.13 L251.59,349.96 L252.31,348.78 L253.03,347.60 L253.75,346.42 L254.46,345.24 L255.18,344.06 L255.90,342.87 L256.62,341.69 L257.34,340.51 L258.05,339.32 L258.77,338.14 L259.49,336.95 L260.21,335.77 L260.92,334.58 L261.64,333.40 L262.36,332.21 L263.08,331.03 L263.79,329.84 L264.51,328.66 L265.23,327.47 L265.95,326.29 L266.66,325.11 L267.38,323.93 L268.10,322.75 L268.82,321.57 L269.53,320.40 L270.25,319.22 L270.97,318.05 L271.69,316.87 L272.40,315.70 L273.12,314.53 L273.84,313.36 L274.56,312.20 L275.27,311.03 L275.99,309.87 L276.71,308.71 L277.43,307.56 L278.14,306.40 L278.86,305.25 L279.58,304.10 L280.30,302.95 L281.01,301.80 L281.73,300.66 L282.45,299.52 L283.17,298.38 L283.88,297.25 L284.60,296.12 L285.32,294.99 L286.04,293.86 L286.75,292.74 L287.47,291.62 L288.19,290.51 L288.91,289.40 L289.62,288.29 L290.34,287.18 L291.06,286.08 L291.78,284.98 L292.49,283.89 L293.21,282.80 L293.93,281.72 L294.65,280.64 L295.36,279.56 L296.08,278.48 L296.80,277.42 L297.52,276.35 L298.24,275.29 L298.95,274.24 L299.67,273.18 L300.39,272.14 L301.11,271.10 L301.82,270.06 L302.54,269.03 L303.26,268.00 L303.98,266.98 L304.69,265.96 L305.41,264.95 L306.13,263.94 L306.85,262.94 L307.56,261.94 L308.28,260.95 L309.00,259.96 L309.72,258.98 L310.43,258.01 L311.15,257.04 L311.87,256.08 L312.59,255.12 L313.30,254.17 L314.02,253.22 L314.74,252.28 L315.46,251.35 L316.17,250.42 L316.89,249.50 L317.61,248.58 L318.33,247.67 L319.04,246.77 L319.76,245.87 L320.48,244.98 L321.20,244.09 L321.91,243.21 L322.63,242.34 L323.35,241.48 L324.07,240.62 L324.78,239.77 L325.50,238.92 L326.22,238.08 L326.94,237.25 L327.65,236.43 L328.37,235.61 L329.09,234.80 L329.81,233.99 L330.52,233.19 L331.24,232.40 L331.96,231.62 L332.68,230.84 L333.39,230.07 L334.11,229.31 L334.83,228.55 L335.55,227.81 L336.26,227.07 L336.98,226.33 L337.70,225.60 L338.42,224.89 L339.14,224.17 L339.85,223.47 L340.57,222.77 L341.29,222.08 L342.01,221.40 L342.72,220.72 L343.44,220.05 L344.16,219.39 L344.88,218.74 L345.59,218.09 L346.31,217.45 L347.03,216.82 L347.75,216.19 L348.46,215.58 L349.18,214.97 L349.90,214.36 L350.62,213.77 L351.33,213.18 L352.05,212.60 L352.77,212.02 L353.49,211.46 L354.20,210.90 L354.92,210.34 L355.64,209.80 L356.36,209.26 L357.07,208.73 L357.79,208.20 L358.51,207.69 L359.23,207.18 L359.94,206.67 L360.66,206.18 L361.38,205.69 L362.10,205.20 L362.81,204.73 L363.53,204.26 L364.25,203.79 L364.97,203.34 L365.68,202.89 L366.40,202.44 L367.12,202.01 L367.84,201.58 L368.55,201.15 L369.27,200.73 L369.99,200.32 L370.71,199.91 L371.42,199.51 L372.14,199.12 L372.86,198.73 L373.58,198.35 L374.29,197.97 L375.01,197.60 L375.73,197.23 L376.45,196.87 L377.16,196.52 L377.88,196.17 L378.60,195.82 L379.32,195.48 L380.04,195.15 L380.75,194.82 L381.47,194.49 L382.19,194.17 L382.91,193.85 L383.62,193.54 L384.34,193.23 L385.06,192.93 L385.78,192.63 L386.49,192.33 L387.21,192.04 L387.93,191.75 L388.65,191.47 L389.36,191.18 L390.08,190.91 L390.80,190.63 L391.52,190.36 L392.23,190.09 L392.95,189.82 L393.67,189.56 L394.39,189.30 L395.00,189.07 L395.25,188.98 L395.50,188.89 L395.75,188.80 L396.00,188.72 L396.25,188.63 L396.50,188.54 L396.75,188.45 L397.00,188.36 L397.25,188.27 L397.50,188.19 L397.75,188.10 L398.00,188.01 L398.25,187.92 L398.50,187.84 L398.75,187.75 L399.00,187.66 L399.25,187.58 L399.50,187.49 L399.75,187.40 L400.00,187.32 L400.25,187.23 L400.50,187.14 L400.75,187.06 L401.00,186.97 L401.25,186.89 L401.50,186.80 L401.75,186.72 L402.00,186.63 L402.25,186.55 L402.50,186.46 L402.75,186.38 L403.00,186.29 L403.25,186.21 L403.50,186.12 L403.75,186.04 L404.00,185.95 L404.25,185.87 L404.50,185.78 L404.75,185.70 L405.00,185.61 L405.25,185.53 L405.50,185.44 L405.75,185.36 L406.00,185.27 L406.25,185.19 L406.50,185.10 L406.75,185.02 L407.00,184.93 L407.25,184.85 L407.50,184.76 L407.75,184.68 L408.00,184.59 L408.25,184.50 L408.50,184.42 L408.75,184.33 L409.00,184.25 L409.25,184.16 L409.50,184.07 L409.75,183.99 L410.00,183.90 L410.25,183.81 L410.50,183.73 L410.75,183.64 L411.00,183.55 L411.25,183.47 L411.50,183.38 L411.75,183.29 L412.00,183.20 L412.25,183.11 L412.50,183.02 L412.75,182.93 L413.00,182.84 L413.25,182.75 L413.50,182.66 L413.75,182.57 L414.00,182.48 L414.25,182.39 L414.50,182.30 L414.75,182.22 L415.00,182.13 L415.25,182.04 L415.50,181.95 L415.75,181.86 L416.00,181.78 L416.25,181.69 L416.50,181.61 L416.75,181.52 L417.00,181.44 L417.25,181.37 L417.50,181.29 L417.75,181.21 L418.00,181.14 L418.25,181.07 L418.50,181.01 L418.75,180.94 L419.00,180.88 L419.25,180.83 L419.50,180.77 L419.75,180.72 L420.00,180.68 L420.25,180.63 L420.50,180.59 L420.75,180.56 L421.00,180.52 L421.25,180.49 L421.50,180.46 L421.75,180.44 L422.00,180.42 L422.25,180.40 L422.50,180.38 L422.75,180.36 L423.00,180.35 L423.25,180.34 L423.50,180.33 L423.75,180.32 L424.00,180.31 L424.25,180.30 L424.50,180.30 L424.75,180.29 L425.00,180.29 L425.25,180.29 L425.50,180.29 L425.75,180.29 L426.00,180.29 L426.25,180.29 L426.50,180.30 L426.75,180.30 L427.00,180.31 L427.25,180.31 L427.50,180.32 L427.75,180.33 L428.00,180.34 L428.25,180.34 L428.50,180.36 L428.75,180.37 L429.00,180.38 L429.25,180.39 L429.50,180.40 L429.75,180.42 L430.00,180.43 L430.25,180.44 L430.50,180.46 L430.75,180.47 L431.00,180.49 L431.25,180.50 L431.50,180.52 L431.75,180.53 L432.00,180.55 L432.25,180.56 L432.50,180.58 L432.75,180.60 L433.00,180.61 L433.25,180.63 L433.50,180.65 L433.75,180.66 L434.00,180.68 L434.25,180.69 L434.50,180.71 L434.75,180.73 L435.00,180.74 L435.25,180.76 L435.50,180.77 L435.75,180.79 L436.00,180.80 L436.25,180.82 L436.50,180.83 L436.75,180.85 L437.00,180.86 L437.25,180.87 L437.50,180.88 L437.75,180.90 L438.00,180.91 L438.25,180.92 L438.50,180.93 L438.75,180.94 L439.00,180.95 L439.25,180.96 L439.50,180.97 L439.75,180.98 L440.00,180.98 L440.25,180.99 L440.50,180.99 L440.75,181.00 L441.00,181.00 L441.25,181.01 L441.50,181.01 L441.75,181.01 L442.00,181.01 L442.25,181.01 L442.50,181.01 L442.75,181.01 L443.00,181.00 L443.25,181.00 L443.50,181.00 L443.75,180.99 L444.00,180.99 L444.25,180.98 L444.50,180.97 L444.75,180.96 L445.00,180.95 L445.81,180.92 L446.69,180.88 L447.57,180.82 L448.44,180.77 L449.32,180.70 L450.19,180.63 L451.07,180.55 L451.94,180.47 L452.82,180.39 L453.69,180.30 L454.57,180.20 L455.44,180.11 L456.31,180.01 L457.19,179.91 L458.06,179.82 L458.94,179.71 L459.81,179.61 L460.68,179.51 L461.56,179.41 L462.43,179.31 L463.30,179.22 L464.18,179.12 L465.05,179.03 L465.93,178.94 L466.80,178.85 L467.68,178.77 L468.55,178.68 L469.43,178.61 L470.30,178.53 L471.18,178.46 L472.05,178.39 L472.93,178.32 L473.80,178.26 L474.68,178.20 L475.56,178.14 L476.43,178.08 L477.31,178.03 L478.19,177.98 L479.06,177.93 L479.94,177.88 L480.82,177.84 L481.69,177.80 L482.57,177.75 L483.45,177.71 L484.33,177.68 L485.20,177.64 L486.08,177.61 L486.96,177.57 L487.84,177.54 L488.72,177.51 L489.59,177.48 L490.47,177.45 L491.35,177.43 L492.23,177.40 L493.11,177.38 L493.99,177.35 L494.86,177.33 L495.74,177.31 L496.62,177.28 L497.50,177.26 L498.38,177.24 L499.26,177.22 L500.14,177.20 L501.01,177.18 L501.89,177.16 L502.77,177.14 L503.65,177.12 L504.53,177.10 L505.41,177.08 L506.28,177.06 L507.16,177.04 L508.04,177.02 L508.92,177.00 L509.80,176.99 L510.68,176.97 L511.56,176.95 L512.43,176.93 L513.31,176.91 L514.19,176.90 L515.07,176.88 L515.95,176.86 L516.83,176.84 L517.71,176.83 L518.58,176.81 L519.46,176.79 L520.34,176.78 L521.22,176.76 L522.10,176.75 L522.98,176.73 L523.85,176.72 L524.73,176.70 L525.61,176.68 L526.49,176.67 L527.37,176.65 L528.25,176.64 L529.13,176.62 L530.00,176.61 L530.88,176.60 L531.76,176.58 L532.64,176.57 L533.52,176.55 L534.40,176.54 L535.28,176.53 L536.15,176.51 L537.03,176.50 L537.91,176.49 L538.79,176.47 L539.67,176.46 L540.55,176.45 L541.43,176.44 L542.30,176.42 L543.18,176.41 L544.06,176.40 L544.94,176.39 L545.82,176.37 L546.70,176.36 L547.57,176.35 L548.45,176.34 L549.33,176.33 L550.21,176.32 L551.09,176.31 L551.97,176.29 L552.85,176.28 L553.72,176.27 L554.60,176.26 L555.48,176.25 L556.36,176.24 L557.24,176.23 L558.12,176.22 L559.00,176.21 L559.87,176.20 L560.75,176.19 L561.63,176.18 L562.51,176.17 L563.39,176.16 L564.27,176.15 L565.15,176.14 L566.02,176.13 L566.90,176.12 L567.78,176.12 L568.66,176.11 L569.54,176.10 L570.42,176.09 L571.30,176.08 L572.17,176.07 L573.05,176.06 L573.93,176.05 L574.81,176.05 L575.69,176.04 L576.57,176.03 L577.45,176.02 L578.32,176.01 L579.20,176.00 L580.08,176.00 L580.96,175.99 L581.84,175.98 L582.72,175.97 L583.60,175.97 L584.47,175.96 L585.35,175.95 L586.23,175.94 L587.11,175.94 L587.99,175.93 L588.87,175.92 L589.75,175.91 L590.62,175.91 L591.50,175.90 L592.38,175.89 L593.26,175.89 L594.14,175.88 L595.02,175.87 L595.90,175.87 L596.77,175.86 L597.65,175.85 L598.53,175.85 L599.41,175.84 L600.29,175.84 L601.17,175.83 L602.05,175.82 L602.92,175.82 L603.80,175.81 L604.68,175.80 L605.56,175.80 L606.44,175.79 L607.32,175.79 L608.20,175.78 L609.07,175.78 L609.95,175.77 L610.83,175.76 L611.71,175.76 L612.59,175.75 L613.47,175.75 L614.35,175.74 L615.23,175.74 L616.10,175.73 L616.98,175.73 L617.86,175.72 L618.74,175.71 L619.62,175.71 L620.50,175.70 L621.38,175.70 L622.25,175.69 L623.13,175.69 L624.01,175.68 L624.89,175.68 L625.77,175.67 L626.65,175.67 L627.53,175.66 L628.40,175.66 L629.28,175.66 L630.16,175.65 L631.04,175.65 L631.92,175.64 L632.80,175.64 L633.68,175.63 L634.55,175.63 L635.43,175.62 L636.31,175.62 L637.19,175.61 L638.07,175.61 L638.95,175.60 L639.83,175.60 L640.71,175.60 L641.58,175.59 L642.46,175.59 L643.34,175.58 L644.22,175.58 L645.10,175.57 L645.98,175.57 L646.86,175.57 L647.73,175.56 L648.61,175.56 L649.49,175.55 L650.37,175.55 L651.25,175.54 L652.13,175.54 L653.01,175.54 L653.88,175.53 L654.76,175.53 L655.64,175.52 L656.52,175.52 L657.40,175.52 L658.28,175.51 L659.16,175.51 L660.03,175.50 L660.91,175.50 L661.79,175.49 L662.67,175.49 L663.55,175.49 L664.43,175.48 L665.31,175.48 L666.19,175.47 L667.06,175.47 L667.94,175.47 L668.82,175.46 L669.70,175.46 L670.58,175.45 L671.46,175.45 L672.34,175.45 L673.21,175.44 L674.09,175.44 L674.97,175.43 L675.85,175.43 L676.73,175.43 L677.61,175.42 L678.49,175.42 L679.36,175.41 L680.24,175.41 L681.12,175.40 L682.00,175.40" stroke="#804000" stroke-width="1.95"/>
<path d="M133.20,258.47 L134.12,265.31 L135.03,272.00 L135.95,278.54 L136.86,284.92 L137.78,291.14 L138.70,297.20 L139.61,303.10 L140.53,308.84 L141.44,314.42 L142.36,319.84 L143.28,325.10 L144.19,330.20 L145.11,335.14 L146.02,339.92 L146.94,344.55 L147.86,349.03 L148.77,353.35 L149.69,357.53 L150.60,361.55 L151.52,365.43 L152.44,369.17 L153.35,372.77 L154.27,376.23 L155.18,379.55 L156.10,382.74 L157.02,385.80 L157.93,388.73 L158.85,391.54 L159.76,394.22 L160.68,396.78 L161.60,399.23 L162.51,401.56 L163.43,403.77 L164.34,405.88 L165.26,407.88 L166.18,409.77 L167.09,411.57 L168.01,413.26 L168.93,414.85 L169.84,416.35 L170.76,417.76 L171.67,419.08 L172.59,420.30 L173.51,421.45 L174.42,422.51 L175.34,423.49 L176.25,424.39 L177.17,425.21 L178.09,425.96 L179.00,426.63 L179.92,427.23 L180.83,427.77 L181.75,428.24 L182.67,428.64 L183.58,428.98 L184.50,429.26 L185.41,429.47 L186.33,429.63 L187.25,429.74 L188.16,429.78 L189.08,429.78 L189.99,429.72 L190.91,429.61 L191.83,429.45 L192.74,429.25 L193.66,428.99 L194.57,428.70 L195.49,428.36 L196.41,427.97 L197.32,427.55 L198.24,427.08 L199.15,426.58 L200.07,426.04 L200.99,425.46 L201.90,424.84 L202.82,424.19 L203.73,423.51 L204.65,422.79 L205.57,422.05 L206.48,421.27 L207.40,420.46 L208.31,419.62 L209.23,418.76 L210.15,417.87 L211.06,416.95 L211.98,416.00 L212.89,415.03 L213.81,414.04 L214.73,413.02 L215.64,411.98 L216.56,410.92 L217.47,409.84 L218.39,408.73 L219.31,407.61 L220.22,406.46 L221.14,405.30 L222.05,404.12 L222.97,402.92 L223.89,401.71 L224.80,400.48 L225.72,399.23 L226.63,397.97 L227.55,396.69 L228.47,395.40 L229.38,394.10 L230.30,392.78 L231.21,391.45 L232.13,390.11 L233.05,388.75 L233.96,387.39 L234.88,386.01 L235.79,384.63 L236.71,383.23 L237.63,381.83 L238.54,380.41 L239.46,378.99 L240.38,377.56 L241.29,376.12 L242.21,374.68 L243.12,373.22 L244.04,371.76 L244.96,370.30 L245.87,368.83 L246.79,367.35 L247.70,365.87 L248.62,364.39 L249.54,362.90 L250.45,361.40 L251.37,359.91 L252.28,358.41 L253.20,356.90 L254.12,355.40 L255.03,353.89 L255.95,352.38 L256.86,350.87 L257.78,349.36 L258.70,347.84 L259.61,346.33 L260.53,344.82 L261.44,343.30 L262.36,341.79 L263.28,340.27 L264.19,338.76 L265.11,337.25 L266.02,335.74 L266.94,334.23 L267.86,332.72 L268.77,331.22 L269.69,329.71 L270.60,328.21 L271.52,326.72 L272.44,325.22 L273.35,323.73 L274.27,322.25 L275.18,320.76 L276.10,319.28 L277.02,317.81 L277.93,316.34 L278.85,314.87 L279.76,313.41 L280.68,311.96 L281.60,310.51 L282.51,309.06 L283.43,307.62 L284.34,306.19 L285.26,304.76 L286.18,303.34 L287.09,301.93 L288.01,300.52 L288.92,299.12 L289.84,297.72 L290.76,296.33 L291.67,294.95 L292.59,293.58 L293.50,292.22 L294.42,290.86 L295.34,289.51 L296.25,288.16 L297.17,286.83 L298.08,285.50 L299.00,284.19 L299.92,282.88 L300.83,281.57 L301.75,280.28 L302.66,279.00 L303.58,277.72 L304.50,276.46 L305.41,275.20 L306.33,273.95 L307.25,272.71 L308.16,271.48 L309.08,270.26 L309.99,269.05 L310.91,267.85 L311.83,266.66 L312.74,265.48 L313.66,264.30 L314.57,263.14 L315.49,261.99 L316.41,260.85 L317.32,259.71 L318.24,258.59 L319.15,257.48 L320.07,256.37 L320.99,255.28 L321.90,254.20 L322.82,253.12 L323.73,252.06 L324.65,251.01 L325.57,249.97 L326.48,248.93 L327.40,247.91 L328.31,246.90 L329.23,245.90 L330.15,244.91 L331.06,243.93 L331.98,242.96 L332.89,242.00 L333.81,241.05 L334.73,240.11 L335.64,239.18 L336.56,238.26 L337.47,237.35 L338.39,236.45 L339.31,235.56 L340.22,234.68 L341.14,233.82 L342.05,232.96 L342.97,232.11 L343.89,231.27 L344.80,230.44 L345.72,229.63 L346.63,228.82 L347.55,228.02 L348.47,227.23 L349.38,226.45 L350.30,225.69 L351.21,224.93 L352.13,224.18 L353.05,223.44 L353.96,222.71 L354.88,221.99 L355.79,221.28 L356.71,220.58 L357.63,219.89 L358.54,219.21 L359.46,218.53 L360.37,217.87 L361.29,217.21 L362.21,216.57 L363.12,215.93 L364.04,215.31 L364.95,214.69 L365.87,214.08 L366.79,213.48 L367.70,212.89 L368.62,212.31 L369.53,211.73 L370.45,211.17 L371.37,210.61 L372.28,210.06 L373.20,209.52 L374.12,208.99 L375.03,208.46 L375.95,207.95 L376.86,207.44 L377.78,206.94 L378.70,206.45 L379.61,205.97 L380.53,205.49 L381.44,205.02 L382.36,204.56 L383.28,204.11 L384.19,203.66 L385.11,203.22 L386.02,202.79 L386.94,202.37 L387.86,201.95 L388.77,201.54 L389.69,201.14 L390.60,200.74 L391.52,200.35 L392.44,199.97 L393.35,199.59 L394.27,199.22 L395.18,198.86 L396.10,198.50 L397.02,198.15 L397.93,197.81 L398.85,197.47 L399.76,197.14 L400.68,196.82 L401.60,196.50 L402.51,196.18 L403.43,195.88 L404.34,195.57 L405.26,195.28 L406.18,194.99 L407.09,194.70 L408.01,194.42 L408.92,194.15 L409.84,193.88 L410.76,193.61 L411.67,193.35 L412.59,193.10 L413.50,192.85 L414.42,192.60 L415.34,192.36 L416.25,192.13 L417.17,191.90 L418.08,191.67 L419.00,191.45 L419.92,191.24 L420.83,191.02 L421.75,190.81 L422.66,190.61 L423.58,190.41 L424.50,190.22 L425.41,190.02 L426.33,189.84 L427.24,189.65 L428.16,189.47 L429.08,189.30 L429.99,189.12 L430.91,188.95 L431.82,188.79 L432.74,188.63 L433.66,188.47 L434.57,188.31 L435.49,188.16 L436.40,188.01 L437.32,187.87 L438.24,187.72 L439.15,187.58 L440.07,187.45 L440.98,187.31 L441.90,187.18 L442.82,187.06 L443.73,186.93 L444.65,186.81 L445.57,186.69 L446.48,186.57 L447.40,186.46 L448.31,186.35 L449.23,186.24 L450.15,186.13 L451.06,186.02 L451.98,185.92 L452.89,185.82 L453.81,185.72 L454.73,185.63 L455.64,185.53 L456.56,185.44 L457.47,185.35 L458.39,185.26 L459.31,185.18 L460.22,185.09 L461.14,185.01 L462.05,184.93 L462.97,184.85 L463.89,184.78 L464.80,184.70 L465.72,184.63 L466.63,184.55 L467.55,184.48 L468.47,184.41 L469.38,184.35 L470.30,184.28 L471.21,184.22 L472.13,184.15 L473.05,184.09 L473.96,184.03 L474.88,183.97 L475.79,183.91 L476.71,183.85 L477.63,183.80 L478.54,183.74 L479.46,183.69 L480.37,183.63 L481.29,183.58 L482.21,183.53 L483.12,183.48 L484.04,183.43 L484.95,183.38 L485.87,183.34 L486.79,183.29 L487.70,183.25 L488.62,183.20 L489.53,183.16 L490.45,183.11 L491.37,183.07 L492.28,183.03 L493.20,182.99 L494.11,182.95 L495.03,182.91 L495.95,182.87 L496.86,182.83 L497.78,182.79 L498.69,182.75 L499.61,182.72 L500.53,182.68 L501.44,182.65 L502.36,182.61 L503.27,182.58 L504.19,182.54 L505.11,182.51 L506.02,182.47 L506.94,182.44 L507.85,182.41 L508.77,182.38 L509.69,182.34 L510.60,182.31 L511.52,182.28 L512.44,182.25 L513.35,182.22 L514.27,182.19 L515.18,182.16 L516.10,182.13 L517.02,182.10 L517.93,182.07 L518.85,182.04 L519.76,182.01 L520.68,181.99 L521.60,181.96 L522.51,181.93 L523.43,181.90 L524.34,181.87 L525.26,181.85 L526.18,181.82 L527.09,181.79 L528.01,181.77 L528.92,181.74 L529.84,181.71 L530.76,181.69 L531.67,181.66 L532.59,181.63 L533.50,181.61 L534.42,181.58 L535.34,181.56 L536.25,181.53 L537.17,181.51 L538.08,181.48 L539.00,181.46 L539.92,181.43 L540.83,181.41 L541.75,181.38 L542.66,181.36 L543.58,181.33 L544.50,181.31 L545.41,181.28 L546.33,181.26 L547.24,181.24 L548.16,181.21 L549.08,181.19 L549.99,181.16 L550.91,181.14 L551.82,181.12 L552.74,181.09 L553.66,181.07 L554.57,181.05 L555.49,181.02 L556.40,181.00 L557.32,180.98 L558.24,180.95 L559.15,180.93 L560.07,180.91 L560.98,180.88 L561.90,180.86 L562.82,180.84 L563.73,180.82 L564.65,180.79 L565.56,180.77 L566.48,180.75 L567.40,180.73 L568.31,180.71 L569.23,180.68 L570.14,180.66 L571.06,180.64 L571.98,180.62 L572.89,180.60 L573.81,180.58 L574.72,180.56 L575.64,180.54 L576.56,180.52 L577.47,180.49 L578.39,180.47 L579.31,180.45 L580.22,180.43 L581.14,180.41 L582.05,180.39 L582.97,180.37 L583.89,180.36 L584.80,180.34 L585.72,180.32 L586.63,180.30 L587.55,180.28 L588.47,180.26 L589.38,180.24 L590.30,180.22 L591.21,180.21 L592.13,180.19 L593.05,180.17 L593.96,180.15 L594.88,180.14 L595.79,180.12 L596.71,180.10 L597.63,180.09 L598.54,180.07 L599.46,180.05 L600.37,180.04 L601.29,180.02 L602.21,180.01 L603.12,179.99 L604.04,179.98 L604.95,179.96 L605.87,179.95 L606.79,179.94 L607.70,179.92 L608.62,179.91 L609.53,179.90 L610.45,179.88 L611.37,179.87 L612.28,179.86 L613.20,179.85 L614.11,179.83 L615.03,179.82 L615.95,179.81 L616.86,179.80 L617.78,179.79 L618.69,179.78 L619.61,179.77 L620.53,179.76 L621.44,179.75 L622.36,179.74 L623.27,179.74 L624.19,179.73 L625.11,179.72 L626.02,179.71 L626.94,179.71 L627.85,179.70 L628.77,179.69 L629.69,179.69 L630.60,179.68 L631.52,179.68 L632.43,179.67 L633.35,179.67 L634.27,179.66 L635.18,179.66 L636.10,179.66 L637.01,179.65 L637.93,179.65 L638.85,179.65 L639.76,179.65 L640.68,179.65 L641.59,179.65 L642.51,179.65 L643.43,179.65 L644.34,179.65 L645.26,179.65 L646.17,179.65 L647.09,179.65 L648.01,179.65 L648.92,179.66 L649.84,179.66 L650.76,179.66 L651.67,179.67 L652.59,179.67 L653.50,179.68 L654.42,179.68 L655.34,179.69 L656.25,179.69 L657.17,179.70 L658.08,179.71 L659.00,179.72 L659.92,179.72 L660.83,179.73 L661.75,179.74 L662.66,179.75 L663.58,179.76 L664.50,179.77 L665.41,179.78 L666.33,179.80 L667.24,179.81 L668.16,179.82 L669.08,179.83 L669.99,179.85 L670.91,179.86 L671.82,179.88 L672.74,179.89 L673.66,179.91 L674.57,179.92 L675.49,179.94 L676.40,179.96 L677.32,179.97 L678.24,179.99 L679.15,180.01 L680.07,180.03 L680.98,180.05 L681.90,180.07" stroke="#bf2000" stroke-width="1.95"/>
<path d="M133.20,260.20 L134.12,267.35 L135.03,274.32 L135.95,281.11 L136.86,287.71 L137.78,294.14 L138.70,300.38 L139.61,306.44 L140.53,312.32 L141.44,318.02 L142.36,323.55 L143.28,328.91 L144.19,334.10 L145.11,339.11 L146.02,343.96 L146.94,348.65 L147.86,353.18 L148.77,357.55 L149.69,361.76 L150.60,365.82 L151.52,369.73 L152.44,373.49 L153.35,377.11 L154.27,380.59 L155.18,383.93 L156.10,387.13 L157.02,390.20 L157.93,393.15 L158.85,395.96 L159.76,398.65 L160.68,401.23 L161.60,403.68 L162.51,406.02 L163.43,408.24 L164.34,410.36 L165.26,412.37 L166.18,414.27 L167.09,416.07 L168.01,417.78 L168.93,419.38 L169.84,420.89 L170.76,422.31 L171.67,423.65 L172.59,424.89 L173.51,426.05 L174.42,427.13 L175.34,428.12 L176.25,429.04 L177.17,429.88 L178.09,430.65 L179.00,431.35 L179.92,431.98 L180.83,432.53 L181.75,433.03 L182.67,433.45 L183.58,433.82 L184.50,434.12 L185.41,434.37 L186.33,434.55 L187.25,434.68 L188.16,434.76 L189.08,434.78 L189.99,434.76 L190.91,434.68 L191.83,434.55 L192.74,434.37 L193.66,434.15 L194.57,433.89 L195.49,433.58 L196.41,433.23 L197.32,432.84 L198.24,432.40 L199.15,431.93 L200.07,431.42 L200.99,430.88 L201.90,430.30 L202.82,429.68 L203.73,429.03 L204.65,428.35 L205.57,427.63 L206.48,426.89 L207.40,426.11 L208.31,425.31 L209.23,424.48 L210.15,423.62 L211.06,422.73 L211.98,421.82 L212.89,420.88 L213.81,419.92 L214.73,418.93 L215.64,417.92 L216.56,416.89 L217.47,415.84 L218.39,414.77 L219.31,413.67 L220.22,412.56 L221.14,411.43 L222.05,410.28 L222.97,409.11 L223.89,407.92 L224.80,406.72 L225.72,405.50 L226.63,404.27 L227.55,403.02 L228.47,401.75 L229.38,400.48 L230.30,399.18 L231.21,397.88 L232.13,396.56 L233.05,395.23 L233.96,393.89 L234.88,392.54 L235.79,391.18 L236.71,389.81 L237.63,388.43 L238.54,387.04 L239.46,385.64 L240.38,384.23 L241.29,382.81 L242.21,381.39 L243.12,379.96 L244.04,378.52 L244.96,377.07 L245.87,375.62 L246.79,374.17 L247.70,372.70 L248.62,371.24 L249.54,369.76 L250.45,368.29 L251.37,366.81 L252.28,365.33 L253.20,363.84 L254.12,362.35 L255.03,360.86 L255.95,359.36 L256.86,357.86 L257.78,356.37 L258.70,354.87 L259.61,353.36 L260.53,351.86 L261.44,350.36 L262.36,348.86 L263.28,347.36 L264.19,345.85 L265.11,344.35 L266.02,342.85 L266.94,341.35 L267.86,339.85 L268.77,338.36 L269.69,336.86 L270.60,335.37 L271.52,333.88 L272.44,332.40 L273.35,330.91 L274.27,329.43 L275.18,327.95 L276.10,326.48 L277.02,325.01 L277.93,323.54 L278.85,322.08 L279.76,320.62 L280.68,319.17 L281.60,317.72 L282.51,316.28 L283.43,314.84 L284.34,313.40 L285.26,311.98 L286.18,310.56 L287.09,309.14 L288.01,307.73 L288.92,306.33 L289.84,304.93 L290.76,303.54 L291.67,302.15 L292.59,300.78 L293.50,299.41 L294.42,298.04 L295.34,296.69 L296.25,295.34 L297.17,294.00 L298.08,292.67 L299.00,291.34 L299.92,290.03 L300.83,288.72 L301.75,287.42 L302.66,286.12 L303.58,284.84 L304.50,283.56 L305.41,282.29 L306.33,281.04 L307.25,279.79 L308.16,278.54 L309.08,277.31 L309.99,276.09 L310.91,274.87 L311.83,273.67 L312.74,272.47 L313.66,271.29 L314.57,270.11 L315.49,268.94 L316.41,267.78 L317.32,266.63 L318.24,265.49 L319.15,264.36 L320.07,263.24 L320.99,262.13 L321.90,261.03 L322.82,259.94 L323.73,258.86 L324.65,257.79 L325.57,256.72 L326.48,255.67 L327.40,254.63 L328.31,253.60 L329.23,252.57 L330.15,251.56 L331.06,250.56 L331.98,249.57 L332.89,248.59 L333.81,247.61 L334.73,246.65 L335.64,245.70 L336.56,244.75 L337.47,243.82 L338.39,242.90 L339.31,241.99 L340.22,241.08 L341.14,240.19 L342.05,239.31 L342.97,238.43 L343.89,237.57 L344.80,236.72 L345.72,235.87 L346.63,235.04 L347.55,234.21 L348.47,233.40 L349.38,232.59 L350.30,231.80 L351.21,231.01 L352.13,230.24 L353.05,229.47 L353.96,228.71 L354.88,227.97 L355.79,227.23 L356.71,226.50 L357.63,225.78 L358.54,225.07 L359.46,224.37 L360.37,223.68 L361.29,222.99 L362.21,222.32 L363.12,221.65 L364.04,221.00 L364.95,220.35 L365.87,219.71 L366.79,219.08 L367.70,218.46 L368.62,217.85 L369.53,217.25 L370.45,216.65 L371.37,216.07 L372.28,215.49 L373.20,214.92 L374.12,214.36 L375.03,213.80 L375.95,213.26 L376.86,212.72 L377.78,212.19 L378.70,211.67 L379.61,211.16 L380.53,210.65 L381.44,210.16 L382.36,209.67 L383.28,209.18 L384.19,208.71 L385.11,208.24 L386.02,207.78 L386.94,207.33 L387.86,206.88 L388.77,206.45 L389.69,206.02 L390.60,205.59 L391.52,205.17 L392.44,204.76 L393.35,204.36 L394.27,203.96 L395.18,203.57 L396.10,203.19 L397.02,202.81 L397.93,202.44 L398.85,202.08 L399.76,201.72 L400.68,201.37 L401.60,201.02 L402.51,200.68 L403.43,200.35 L404.34,200.02 L405.26,199.70 L406.18,199.38 L407.09,199.07 L408.01,198.77 L408.92,198.47 L409.84,198.18 L410.76,197.89 L411.67,197.61 L412.59,197.33 L413.50,197.06 L414.42,196.79 L415.34,196.53 L416.25,196.27 L417.17,196.02 L418.08,195.77 L419.00,195.53 L419.92,195.29 L420.83,195.05 L421.75,194.83 L422.66,194.60 L423.58,194.38 L424.50,194.17 L425.41,193.95 L426.33,193.75 L427.24,193.54 L428.16,193.35 L429.08,193.15 L429.99,192.96 L430.91,192.77 L431.82,192.59 L432.74,192.41 L433.66,192.24 L434.57,192.06 L435.49,191.90 L436.40,191.73 L437.32,191.57 L438.24,191.41 L439.15,191.26 L440.07,191.11 L440.98,190.96 L441.90,190.81 L442.82,190.67 L443.73,190.53 L444.65,190.40 L445.57,190.27 L446.48,190.14 L447.40,190.01 L448.31,189.89 L449.23,189.76 L450.15,189.65 L451.06,189.53 L451.98,189.42 L452.89,189.31 L453.81,189.20 L454.73,189.09 L455.64,188.99 L456.56,188.89 L457.47,188.79 L458.39,188.69 L459.31,188.60 L460.22,188.51 L461.14,188.42 L462.05,188.33 L462.97,188.24 L463.89,188.16 L464.80,188.08 L465.72,188.00 L466.63,187.92 L467.55,187.84 L468.47,187.77 L469.38,187.70 L470.30,187.63 L471.21,187.56 L472.13,187.49 L473.05,187.42 L473.96,187.36 L474.88,187.30 L475.79,187.23 L476.71,187.17 L477.63,187.12 L478.54,187.06 L479.46,187.00 L480.37,186.95 L481.29,186.89 L482.21,186.84 L483.12,186.79 L484.04,186.74 L484.95,186.69 L485.87,186.65 L486.79,186.60 L487.70,186.56 L488.62,186.51 L489.53,186.47 L490.45,186.43 L491.37,186.39 L492.28,186.35 L493.20,186.31 L494.11,186.27 L495.03,186.23 L495.95,186.19 L496.86,186.16 L497.78,186.12 L498.69,186.09 L499.61,186.06 L500.53,186.02 L501.44,185.99 L502.36,185.96 L503.27,185.93 L504.19,185.90 L505.11,185.87 L506.02,185.84 L506.94,185.81 L507.85,185.78 L508.77,185.76 L509.69,185.73 L510.60,185.70 L511.52,185.68 L512.44,185.65 L513.35,185.63 L514.27,185.60 L515.18,185.58 L516.10,185.56 L517.02,185.53 L517.93,185.51 L518.85,185.49 L519.76,185.47 L520.68,185.45 L521.60,185.43 L522.51,185.40 L523.43,185.38 L524.34,185.36 L525.26,185.34 L526.18,185.32 L527.09,185.31 L528.01,185.29 L528.92,185.27 L529.84,185.25 L530.76,185.23 L531.67,185.21 L532.59,185.19 L533.50,185.18 L534.42,185.16 L535.34,185.14 L536.25,185.13 L537.17,185.11 L538.08,185.09 L539.00,185.08 L539.92,185.06 L540.83,185.04 L541.75,185.03 L542.66,185.01 L543.58,184.99 L544.50,184.98 L545.41,184.96 L546.33,184.95 L547.24,184.93 L548.16,184.92 L549.08,184.90 L549.99,184.89 L550.91,184.87 L551.82,184.86 L552.74,184.84 L553.66,184.83 L554.57,184.81 L555.49,184.80 L556.40,184.78 L557.32,184.77 L558.24,184.75 L559.15,184.74 L560.07,184.73 L560.98,184.71 L561.90,184.70 L562.82,184.68 L563.73,184.67 L564.65,184.65 L565.56,184.64 L566.48,184.63 L567.40,184.61 L568.31,184.60 L569.23,184.59 L570.14,184.57 L571.06,184.56 L571.98,184.54 L572.89,184.53 L573.81,184.52 L574.72,184.50 L575.64,184.49 L576.56,184.48 L577.47,184.46 L578.39,184.45 L579.31,184.44 L580.22,184.42 L581.14,184.41 L582.05,184.40 L582.97,184.38 L583.89,184.37 L584.80,184.36 L585.72,184.35 L586.63,184.33 L587.55,184.32 L588.47,184.31 L589.38,184.29 L590.30,184.28 L591.21,184.27 L592.13,184.26 L593.05,184.25 L593.96,184.23 L594.88,184.22 L595.79,184.21 L596.71,184.20 L597.63,184.18 L598.54,184.17 L599.46,184.16 L600.37,184.15 L601.29,184.14 L602.21,184.13 L603.12,184.11 L604.04,184.10 L604.95,184.09 L605.87,184.08 L606.79,184.07 L607.70,184.06 L608.62,184.05 L609.53,184.04 L610.45,184.03 L611.37,184.02 L612.28,184.01 L613.20,184.00 L614.11,183.99 L615.03,183.97 L615.95,183.97 L616.86,183.96 L617.78,183.95 L618.69,183.94 L619.61,183.93 L620.53,183.92 L621.44,183.91 L622.36,183.90 L623.27,183.89 L624.19,183.88 L625.11,183.87 L626.02,183.87 L626.94,183.86 L627.85,183.85 L628.77,183.84 L629.69,183.83 L630.60,183.83 L631.52,183.82 L632.43,183.81 L633.35,183.80 L634.27,183.80 L635.18,183.79 L636.10,183.78 L637.01,183.78 L637.93,183.77 L638.85,183.77 L639.76,183.76 L640.68,183.75 L641.59,183.75 L642.51,183.74 L643.43,183.74 L644.34,183.74 L645.26,183.73 L646.17,183.73 L647.09,183.72 L648.01,183.72 L648.92,183.71 L649.84,183.71 L650.76,183.71 L651.67,183.71 L652.59,183.70 L653.50,183.70 L654.42,183.70 L655.34,183.70 L656.25,183.69 L657.17,183.69 L658.08,183.69 L659.00,183.69 L659.92,183.69 L660.83,183.69 L661.75,183.69 L662.66,183.69 L663.58,183.69 L664.50,183.69 L665.41,183.69 L666.33,183.69 L667.24,183.69 L668.16,183.69 L669.08,183.70 L669.99,183.70 L670.91,183.70 L671.82,183.70 L672.74,183.71 L673.66,183.71 L674.57,183.71 L675.49,183.72 L676.40,183.72 L677.32,183.72 L678.24,183.73 L679.15,183.73 L680.07,183.74 L680.98,183.74 L681.90,183.75" stroke="#ff0000" stroke-width="1.95"/>
</g>
<g fill="#008080">
<circle cx="133.20" cy="231.90" r="4.9"/>
<circle cx="146.26" cy="313.50" r="4.9"/>
<circle cx="159.33" cy="363.00" r="4.9"/>
<circle cx="172.39" cy="388.60" r="4.9"/>
<circle cx="185.46" cy="397.10" r="4.9"/>
<circle cx="198.52" cy="394.00" r="4.9"/>
<circle cx="211.59" cy="383.10" r="4.9"/>
<circle cx="224.65" cy="366.60" r="4.9"/>
<circle cx="237.71" cy="347.00" r="4.9"/>
<circle cx="250.78" cy="325.70" r="4.9"/>
<circle cx="263.84" cy="303.40" r="4.9"/>
<circle cx="276.91" cy="281.60" r="4.9"/>
<circle cx="289.97" cy="261.25" r="4.9"/>
<circle cx="303.04" cy="242.40" r="4.9"/>
<circle cx="316.10" cy="225.00" r="4.9"/>
<circle cx="329.16" cy="209.25" r="4.9"/>
<circle cx="342.23" cy="196.00" r="4.9"/>
<circle cx="355.29" cy="186.00" r="4.9"/>
<circle cx="368.36" cy="177.50" r="4.9"/>
<circle cx="381.42" cy="170.50" r="4.9"/>
<circle cx="394.49" cy="165.25" r="4.9"/>
<circle cx="407.55" cy="161.25" r="4.9"/>
<circle cx="420.61" cy="158.40" r="4.9"/>
<circle cx="446.74" cy="155.40" r="4.9"/>
<circle cx="472.87" cy="153.30" r="4.9"/>
<circle cx="499.00" cy="152.20" r="4.9"/>
<circle cx="525.13" cy="151.50" r="4.9"/>
<circle cx="551.26" cy="151.40" r="4.9"/>
<circle cx="577.39" cy="151.10" r="4.9"/>
<circle cx="603.51" cy="150.65" r="4.9"/>
<circle cx="629.64" cy="150.50" r="4.9"/>
<circle cx="655.77" cy="150.40" r="4.9"/>
<circle cx="681.90" cy="150.40" r="4.9"/>
</g>
<g font-size="22.8">
<text x="146.03" y="491.9" textLength="27.0" lengthAdjust="spacingAndGlyphs">1.0</text>
<text x="276.67" y="491.9" textLength="27.0" lengthAdjust="spacingAndGlyphs">1.5</text>
<text x="407.31" y="491.9" textLength="27.0" lengthAdjust="spacingAndGlyphs">2.0</text>
<text x="537.96" y="491.9" textLength="27.0" lengthAdjust="spacingAndGlyphs">2.5</text>
<text x="668.60" y="491.9" textLength="27.0" lengthAdjust="spacingAndGlyphs">3.0</text>
<text x="61.3" y="469.80" textLength="57.6" lengthAdjust="spacingAndGlyphs">-109.3</text>
<text x="61.3" y="390.05" textLength="57.6" lengthAdjust="spacingAndGlyphs">-109.2</text>
<text x="61.3" y="310.30" textLength="57.6" lengthAdjust="spacingAndGlyphs">-109.1</text>
<text x="61.3" y="230.55" textLength="57.6" lengthAdjust="spacingAndGlyphs">-109.0</text>
<text x="61.3" y="150.80" textLength="57.6" lengthAdjust="spacingAndGlyphs">-108.9</text>
<text x="61.3" y="71.05" textLength="57.6" lengthAdjust="spacingAndGlyphs">-108.8</text>
</g>
<g font-size="26">
<text x="358" y="530.4"><tspan font-style="italic">r</tspan><tspan x="370" font-size="18.2" dy="3.9" textLength="40.3" lengthAdjust="spacingAndGlyphs">N−N</tspan><tspan dy="-3.9" x="429.6" textLength="18.8" lengthAdjust="spacingAndGlyphs">Å</tspan></text>
<text font-size="31" y="531.2"><tspan x="420.6" textLength="8.4" lengthAdjust="spacingAndGlyphs">(</tspan><tspan x="447.9" textLength="8.4" lengthAdjust="spacingAndGlyphs">)</tspan></text>
<text transform="translate(40.7,304.5) rotate(-90)"><tspan x="-0.5" font-style="italic" textLength="20" lengthAdjust="spacingAndGlyphs">E</tspan><tspan x="42.1" textLength="72.3" lengthAdjust="spacingAndGlyphs">hartree</tspan></text>
<text transform="translate(42.0,304.5) rotate(-90)" font-size="31"><tspan x="31.6" textLength="9.4" lengthAdjust="spacingAndGlyphs">(</tspan><tspan x="112.2" textLength="9.4" lengthAdjust="spacingAndGlyphs">)</tspan></text>
</g>
<rect x="382.4" y="231.1" width="299.5" height="231.20000000000002" fill="#fff" stroke="#000" stroke-width="1.6"/>
<path d="M394,250.50 H433.4" stroke="#0000ff" stroke-width="2.85"/>
<path d="M394,277.10 H433.4" stroke="#008000" stroke-width="2.0"/>
<path d="M394,305.05 H433.4" stroke="#406000" stroke-width="2.0"/>
<path d="M394,333.00 H433.4" stroke="#804000" stroke-width="2.0"/>
<path d="M394,360.95 H433.4" stroke="#bf2000" stroke-width="2.0"/>
<path d="M394,388.90 H433.4" stroke="#ff0000" stroke-width="2.0"/>
<circle cx="413.5" cy="416.8" r="4.5" fill="#008080"/>
<g fill="#800080"><path d="M413.60,437.60 L418.00,446.40 L409.20,446.40 Z"/></g>
<g font-size="22.8">
<text x="445" y="258.40" textLength="44.2" lengthAdjust="spacingAndGlyphs">UHF</text>
<text y="284.60"><tspan x="445" font-style="italic">D</tspan><tspan x="461.6" dy="3.6" font-size="15.1">2<tspan font-style="italic">h</tspan></tspan><tspan x="479.6" dy="-3.6" textLength="64.5" lengthAdjust="spacingAndGlyphs">S-UHF</tspan><tspan x="554">(</tspan><tspan x="560.8" dy="-7.5" font-size="15.1">1</tspan><tspan x="569.8" dy="7.5" font-style="italic" textLength="16" lengthAdjust="spacingAndGlyphs">A</tspan><tspan x="587.4" dy="3.2" font-size="15.1" font-style="italic">g</tspan><tspan x="595.6" dy="-3.2">)</tspan><tspan x="611.4">[</tspan><tspan x="617.2">1</tspan><tspan x="634.6" textLength="34" lengthAdjust="spacingAndGlyphs">det]</tspan></text>
<text y="312.55"><tspan x="445" font-style="italic">D</tspan><tspan x="461.6" dy="3.6" font-size="15.1">2<tspan font-style="italic">h</tspan></tspan><tspan x="479.6" dy="-3.6" textLength="64.5" lengthAdjust="spacingAndGlyphs">S-UHF</tspan><tspan x="554">(</tspan><tspan x="560.8" dy="-7.5" font-size="15.1">1</tspan><tspan x="569.8" dy="7.5" font-style="italic" textLength="16" lengthAdjust="spacingAndGlyphs">A</tspan><tspan x="587.4" dy="3.2" font-size="15.1" font-style="italic">g</tspan><tspan x="595.6" dy="-3.2">)</tspan><tspan x="611.4">[</tspan><tspan x="617.2">2</tspan><tspan x="634.6" textLength="34" lengthAdjust="spacingAndGlyphs">det]</tspan></text>
<text y="340.50"><tspan x="445" font-style="italic">D</tspan><tspan x="461.6" dy="3.6" font-size="15.1">2<tspan font-style="italic">h</tspan></tspan><tspan x="479.6" dy="-3.6" textLength="64.5" lengthAdjust="spacingAndGlyphs">S-UHF</tspan><tspan x="554">(</tspan><tspan x="560.8" dy="-7.5" font-size="15.1">1</tspan><tspan x="569.8" dy="7.5" font-style="italic" textLength="16" lengthAdjust="spacingAndGlyphs">A</tspan><tspan x="587.4" dy="3.2" font-size="15.1" font-style="italic">g</tspan><tspan x="595.6" dy="-3.2">)</tspan><tspan x="611.4">[</tspan><tspan x="617.2">4</tspan><tspan x="634.6" textLength="34" lengthAdjust="spacingAndGlyphs">det]</tspan></text>
<text y="368.45"><tspan x="445" font-style="italic">D</tspan><tspan x="461.6" dy="3.6" font-size="15.1">2<tspan font-style="italic">h</tspan></tspan><tspan x="479.6" dy="-3.6" textLength="64.5" lengthAdjust="spacingAndGlyphs">S-UHF</tspan><tspan x="554">(</tspan><tspan x="560.8" dy="-7.5" font-size="15.1">1</tspan><tspan x="569.8" dy="7.5" font-style="italic" textLength="16" lengthAdjust="spacingAndGlyphs">A</tspan><tspan x="587.4" dy="3.2" font-size="15.1" font-style="italic">g</tspan><tspan x="595.6" dy="-3.2">)</tspan><tspan x="611.4">[</tspan><tspan x="617.2">6</tspan><tspan x="634.6" textLength="34" lengthAdjust="spacingAndGlyphs">det]</tspan></text>
<text y="396.40"><tspan x="445" font-style="italic">D</tspan><tspan x="461.6" dy="3.6" font-size="15.1">2<tspan font-style="italic">h</tspan></tspan><tspan x="479.6" dy="-3.6" textLength="64.5" lengthAdjust="spacingAndGlyphs">S-UHF</tspan><tspan x="554">(</tspan><tspan x="560.8" dy="-7.5" font-size="15.1">1</tspan><tspan x="569.8" dy="7.5" font-style="italic" textLength="16" lengthAdjust="spacingAndGlyphs">A</tspan><tspan x="587.4" dy="3.2" font-size="15.1" font-style="italic">g</tspan><tspan x="595.6" dy="-3.2">)</tspan><tspan x="611.4">[</tspan><tspan x="617.2">8</tspan><tspan x="634.6" textLength="34" lengthAdjust="spacingAndGlyphs">det]</tspan></text>
<text y="424.35"><tspan x="445" font-style="italic">D</tspan><tspan x="461.6" dy="3.6" font-size="15.1">2<tspan font-style="italic">h</tspan></tspan><tspan x="479.6" dy="-3.6" textLength="64.5" lengthAdjust="spacingAndGlyphs">S-GHF</tspan><tspan x="554">(</tspan><tspan x="560.8" dy="-7.5" font-size="15.1">1</tspan><tspan x="569.8" dy="7.5" font-style="italic" textLength="16" lengthAdjust="spacingAndGlyphs">A</tspan><tspan x="587.4" dy="3.2" font-size="15.1" font-style="italic">g</tspan><tspan x="595.6" dy="-3.2">)</tspan></text>
<text x="445" y="450.60" textLength="36.5" lengthAdjust="spacingAndGlyphs">FCI</text>
</g>
</svg></body></html>
